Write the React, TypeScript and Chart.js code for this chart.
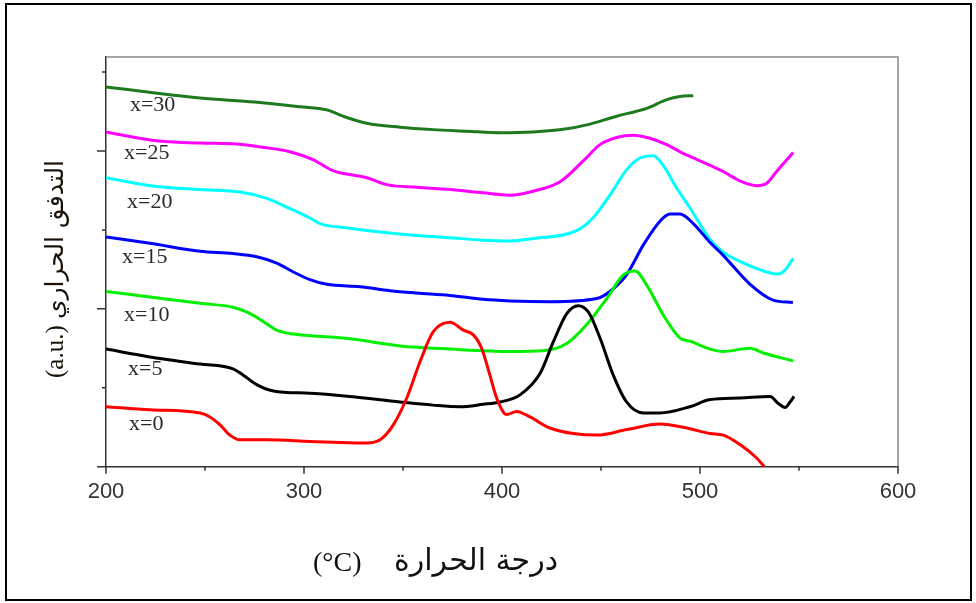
import React, { useEffect, useRef } from 'react';
import { Chart, registerables } from 'chart.js';

Chart.register(...registerables);

// Series names and colours
const seriesNames = ['x=0', 'x=5', 'x=10', 'x=15', 'x=20', 'x=25', 'x=30'];
const seriesColors = ['#ff0000', '#000000', '#00f000', '#0000ff', '#00ffff', '#ff00ff', '#1f7a1f'];

// Temperatures (°C) and heat flow (a.u.) for each composition
const t0 = [200, 222.2, 247.5, 252.5, 257.6, 262.6, 267.7, 281.2, 303, 314.6, 331.7, 338.4, 345.1, 351.9, 358.6, 365.3, 373.7, 380.5, 385.5, 389.7, 393.9, 397.3, 402.4, 407.4, 414.1, 424.2, 436, 447.8, 463, 479.8, 493.3, 505.1, 511.8, 520.2, 528.6, 532.5];
const h0 = [0.76, 0.72, 0.68, 0.63, 0.53, 0.40, 0.34, 0.34, 0.32, 0.31, 0.30, 0.34, 0.53, 0.87, 1.33, 1.71, 1.83, 1.73, 1.67, 1.50, 1.16, 0.87, 0.66, 0.70, 0.63, 0.49, 0.42, 0.40, 0.47, 0.54, 0.49, 0.42, 0.40, 0.28, 0.11, 0];

const t5 = [200, 222.2, 247.5, 264.1, 269.3, 276.1, 284.5, 303, 323.2, 348.5, 365.2, 378.8, 390.4, 399, 409.1, 419.2, 425.9, 432.7, 438.5, 443.6, 449.5, 456.2, 462.9, 471.4, 479.8, 494.9, 505.1, 520.2, 535.4, 539.6, 543, 545.5, 547.5];
const h5 = [1.49, 1.39, 1.30, 1.24, 1.16, 1.04, 0.96, 0.93, 0.89, 0.82, 0.78, 0.76, 0.79, 0.82, 0.91, 1.18, 1.58, 1.94, 2.04, 1.96, 1.63, 1.16, 0.82, 0.68, 0.68, 0.76, 0.85, 0.87, 0.89, 0.80, 0.75, 0.82, 0.89];

const t10 = [200, 222.2, 247.5, 264.1, 271, 279.4, 286.2, 294.6, 303, 323.2, 348.5, 373.7, 404, 420.8, 432.7, 442.8, 452.9, 461.3, 467.2, 473.1, 481.5, 489.9, 494.9, 505.1, 511.6, 525.3, 532, 547.1];
const h10 = [2.22, 2.15, 2.07, 2.02, 1.96, 1.84, 1.73, 1.68, 1.66, 1.62, 1.53, 1.49, 1.46, 1.47, 1.56, 1.80, 2.13, 2.43, 2.48, 2.30, 1.92, 1.63, 1.59, 1.49, 1.46, 1.50, 1.44, 1.34];

const t15 = [200, 222.2, 247.5, 264.1, 276.1, 286.2, 294.4, 303, 311.5, 328.3, 343.4, 356.9, 373.7, 390.4, 404, 424.2, 447.8, 454.5, 462.9, 471.4, 479.8, 484.8, 489.9, 496.6, 505.1, 511.6, 525.3, 536.9, 546.9];
const h15 = [2.91, 2.83, 2.73, 2.70, 2.66, 2.58, 2.47, 2.37, 2.31, 2.28, 2.23, 2.20, 2.17, 2.12, 2.10, 2.09, 2.13, 2.22, 2.43, 2.81, 3.11, 3.20, 3.20, 3.08, 2.84, 2.68, 2.31, 2.11, 2.08];

const t20 = [200, 222.2, 247.5, 267.7, 281.2, 292.9, 303, 308.1, 323.2, 339.9, 356.9, 373.7, 390.4, 404, 415.7, 437.7, 445.9, 454.5, 462.9, 469.7, 476.4, 481.3, 488.2, 494.9, 505.1, 511.6, 520.2, 528.6, 539.4, 542.9, 547.1];
const h20 = [3.66, 3.56, 3.51, 3.48, 3.40, 3.27, 3.15, 3.08, 3.02, 2.97, 2.93, 2.90, 2.87, 2.86, 2.89, 2.99, 3.15, 3.44, 3.76, 3.91, 3.94, 3.82, 3.53, 3.28, 2.88, 2.72, 2.60, 2.51, 2.44, 2.49, 2.64];

const t25 = [200, 222.2, 247.5, 264.1, 281.2, 292.9, 304.5, 314.6, 331.7, 342.4, 356.9, 373.7, 390.4, 404, 415.7, 429.3, 440.9, 449.5, 457.9, 466.2, 474.7, 483.2, 491.4, 494.9, 511.6, 520.2, 528.6, 533.7, 538.7, 547.1];
const h25 = [4.24, 4.14, 4.10, 4.09, 4.04, 3.99, 3.89, 3.75, 3.66, 3.57, 3.54, 3.51, 3.47, 3.44, 3.49, 3.61, 3.87, 4.08, 4.17, 4.20, 4.16, 4.08, 3.97, 3.93, 3.74, 3.62, 3.56, 3.59, 3.74, 3.98];

const t30 = [200, 247.5, 275, 298, 311.5, 319.7, 331.7, 348.5, 365.2, 382.2, 399, 415.7, 432.7, 442.8, 457.9, 473.1, 483.2, 489.9, 496.6];
const h30 = [4.81, 4.67, 4.62, 4.56, 4.52, 4.44, 4.35, 4.30, 4.27, 4.25, 4.23, 4.24, 4.28, 4.33, 4.44, 4.54, 4.65, 4.69, 4.70];

const seriesTemps = [t0, t5, t10, t15, t20, t25, t30];
const seriesFlows = [h0, h5, h10, h15, h20, h25, h30];

// Axis ranges / ticks
const xMajorTicks = [200, 300, 400, 500, 600];
const xMinorTicks = [250, 350, 450, 550];
const yMajorTicks = [0, 2, 4];
const yMinorTicks = [1, 3, 5];
const Y_MAX = 5.19;

// Curve label anchors (temperature, heat flow)
const labelTemps = [211.6, 211.1, 209.1, 208.1, 210.6, 209.1, 212.1];
const labelFlows = [0.54, 1.23, 1.92, 2.66, 3.35, 3.97, 4.58];

// Axis titles (unit part and Arabic part)
const xTitleUnit = '(°C)';
const xTitleText = 'درجة الحرارة';
const yTitleUnit = '(a.u.)';
const yTitleText = 'التدفق الحراري';

const W = 976;
const H = 603;

const decorPlugin = {
  id: 'decor',
  beforeDraw(chart: any) {
    const ctx = chart.ctx;
    ctx.save();
    ctx.fillStyle = '#ffffff';
    ctx.fillRect(0, 0, W, H);
    ctx.restore();
  },
  afterDraw(chart: any) {
    const ctx = chart.ctx;
    const xs = chart.scales.x;
    const ys = chart.scales.y;
    const a = chart.chartArea;
    ctx.save();
    // top and right frame of plot
    ctx.strokeStyle = '#8a8a8a';
    ctx.lineWidth = 1.5;
    ctx.beginPath();
    ctx.moveTo(a.left, a.top);
    ctx.lineTo(a.right, a.top);
    ctx.lineTo(a.right, a.bottom);
    ctx.stroke();
    // ticks
    ctx.strokeStyle = '#333333';
    ctx.lineWidth = 1.5;
    ctx.beginPath();
    xMajorTicks.forEach((v) => {
      const px = xs.getPixelForValue(v);
      ctx.moveTo(px, a.bottom);
      ctx.lineTo(px, a.bottom + 7);
    });
    xMinorTicks.forEach((v) => {
      const px = xs.getPixelForValue(v);
      ctx.moveTo(px, a.bottom);
      ctx.lineTo(px, a.bottom + 4);
    });
    yMajorTicks.forEach((v) => {
      const py = ys.getPixelForValue(v);
      ctx.moveTo(a.left, py);
      ctx.lineTo(a.left - 9, py);
    });
    yMinorTicks.forEach((v) => {
      const py = ys.getPixelForValue(v);
      ctx.moveTo(a.left, py);
      ctx.lineTo(a.left - 4, py);
    });
    ctx.stroke();
    // curve labels
    ctx.fillStyle = '#2a2a2a';
    ctx.font = '22px "Liberation Serif", "Times New Roman", serif';
    ctx.textAlign = 'left';
    ctx.textBaseline = 'middle';
    seriesNames.forEach((name, i) => {
      ctx.fillText(name, xs.getPixelForValue(labelTemps[i]), ys.getPixelForValue(labelFlows[i]));
    });
    // x axis title
    ctx.fillStyle = '#111111';
    ctx.textBaseline = 'alphabetic';
    ctx.font = '28px "Liberation Serif", serif';
    ctx.textAlign = 'left';
    ctx.fillText(xTitleUnit, 313, 571);
    ctx.font = '30px "DejaVu Sans", sans-serif';
    ctx.textAlign = 'right';
    ctx.fillText(xTitleText, 558, 570);
    // y axis title (rotated)
    ctx.save();
    ctx.translate(63, 378);
    ctx.rotate(-Math.PI / 2);
    ctx.fillStyle = '#1a1208';
    ctx.font = '25px "Liberation Serif", serif';
    ctx.textAlign = 'left';
    ctx.fillText(yTitleUnit, 0, 0);
    ctx.font = '25px "DejaVu Sans", sans-serif';
    ctx.textAlign = 'right';
    ctx.fillText(yTitleText, 218, 0);
    ctx.restore();
    // outer frame
    ctx.strokeStyle = '#000000';
    ctx.lineWidth = 2;
    ctx.strokeRect(6, 4, 965, 596);
    ctx.restore();
  },
};

export default function App() {
  const ref = useRef<HTMLCanvasElement | null>(null);
  useEffect(() => {
    document.body.style.margin = '0';
    const canvas = ref.current;
    if (!canvas) return;
    const datasets = seriesNames.map((name, i) => ({
      label: name,
      data: seriesTemps[i].map((t, j) => ({ x: t, y: seriesFlows[i][j] })),
      borderColor: seriesColors[i],
      backgroundColor: seriesColors[i],
      borderWidth: 3,
      pointRadius: 0,
      fill: false,
      cubicInterpolationMode: 'monotone' as const,
    }));
    const chart = new Chart(canvas, {
      type: 'line',
      data: { datasets },
      options: {
        responsive: false,
        animation: false,
        devicePixelRatio: 1,
        layout: { padding: { top: 57, right: 78, left: 0, bottom: 0 } },
        plugins: {
          legend: { display: false },
          tooltip: { enabled: false },
        },
        scales: {
          x: {
            type: 'linear',
            min: 200,
            max: 600,
            grid: { display: false },
            border: { display: true, color: '#333333', width: 1.5 },
            ticks: {
              stepSize: 100,
              padding: 4,
              color: '#333333',
              font: { family: '"Liberation Sans", Arial, sans-serif', size: 22 },
              maxRotation: 0,
            },
            afterFit(scale: any) {
              scale.height = 136.3;
            },
          },
          y: {
            type: 'linear',
            min: 0,
            max: Y_MAX,
            grid: { display: false },
            border: { display: true, color: '#333333', width: 1.5 },
            ticks: { display: false },
            afterFit(scale: any) {
              scale.width = 106;
            },
          },
        },
      },
      plugins: [decorPlugin],
    });
    return () => chart.destroy();
  }, []);
  return (
    <canvas
      ref={ref}
      width={W}
      height={H}
      style={{ display: 'block', position: 'absolute', left: 0, top: 0, width: W, height: H }}
    />
  );
}
